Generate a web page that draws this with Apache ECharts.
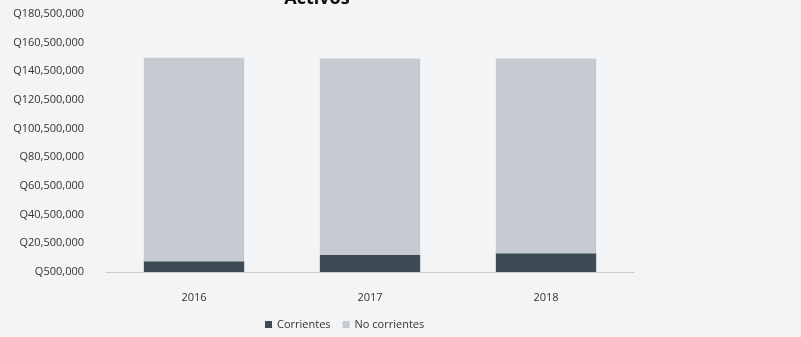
<!DOCTYPE html>
<html>
<head>
<meta charset="utf-8">
<script src="https://cdn.jsdelivr.net/npm/echarts@6/dist/echarts.min.js"></script>
<style>
  html, body { margin: 0; padding: 0; background: #f3f4f6; }
  #chart { width: 801px; height: 337px; }
</style>
</head>
<body>
<div id="chart"></div>
<script>
const years = ['2016', '2017', '2018'];
const corrientes = [8000000, 12500000, 13500000];
const noCorrientes = [142000000, 137000000, 136000000];

const chart = echarts.init(document.getElementById('chart'));

chart.setOption({
  backgroundColor: '#f3f4f6',
  textStyle: { fontFamily: 'Open Sans, sans-serif' },
  title: {
    text: 'Activos',
    left: 312,
    top: -15,
    textAlign: 'center',
    textStyle: { fontSize: 18, fontWeight: 'bold', color: '#111' },
  },
  grid: { left: 106, right: 167, top: 14, bottom: 65 },
  legend: {
    bottom: 2,
    left: 260,
    itemWidth: 7,
    itemHeight: 7,
    itemGap: 12,
    icon: 'rect',
    textStyle: { fontSize: 11, color: '#333' },
    data: ['Corrientes', 'No corrientes'],
  },
  xAxis: {
    type: 'category',
    data: years,
    axisTick: { show: false },
    axisLine: { lineStyle: { color: '#c8cacc' } },
    axisLabel: { fontSize: 11, color: '#333', margin: 20 },
  },
  yAxis: {
    type: 'value',
    min: 500000,
    max: 180500000,
    interval: 20000000,
    splitLine: { show: false },
    axisLabel: {
      fontSize: 11,
      color: '#333',
      margin: 22,
      formatter: (v) => 'Q' + v.toLocaleString('en-US'),
    },
  },
  series: [
    {
      name: 'Corrientes',
      type: 'bar',
      stack: 'total',
      barWidth: '57%',
      data: corrientes,
      itemStyle: { color: '#3d4b55' },
    },
    {
      name: 'No corrientes',
      type: 'bar',
      stack: 'total',
      data: noCorrientes,
      itemStyle: { color: '#c6cad1' },
    },
  ],
});
</script>
</body>
</html>
